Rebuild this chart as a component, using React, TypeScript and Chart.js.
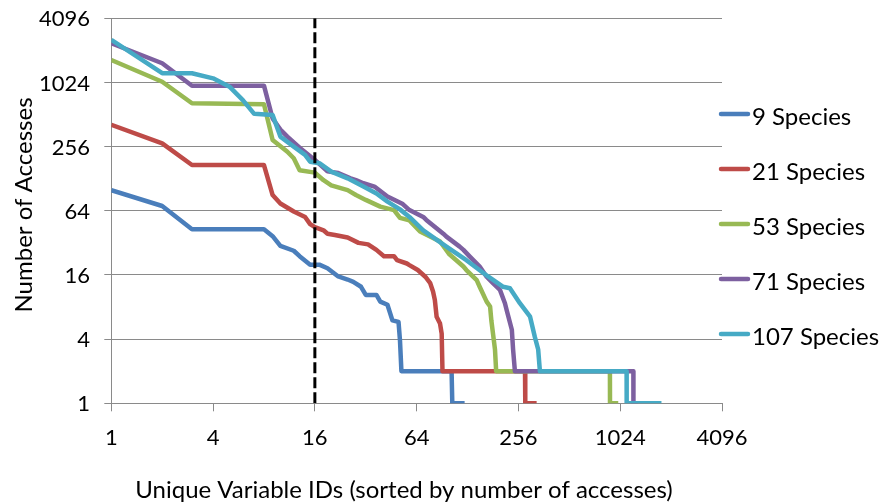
import { useEffect, useRef } from "react";
import { Chart, registerables } from "chart.js";

Chart.register(...registerables);

// Rank (x) and access count (y) for each species set
const ranks9 = [1, 2, 3, 8, 9, 10, 12, 13, 15, 17, 19, 22, 25, 27, 30, 32, 37, 39, 43, 46, 50, 51, 52, 103, 104, 123];
const counts9 = [100, 71, 43, 43, 37, 30, 27, 24, 20, 20, 18.5, 15.5, 14.5, 13.8, 12.4, 10.4, 10.4, 9, 8.4, 6, 5.8, 3.9, 2, 2, 1, 1];

const ranks21 = [1, 2, 3, 8, 9, 10, 12, 14, 15, 16, 18, 19, 21, 25, 29, 33, 37, 41, 47, 49, 56, 58, 65, 72, 77, 80, 82, 84, 88, 90, 91, 280, 281, 328];
const counts21 = [410, 275, 172, 172, 90, 75, 63, 56, 48, 45, 42, 39, 38, 36, 32, 31, 27.5, 24, 24, 22, 20.5, 19.8, 17.8, 15.4, 13.4, 11.2, 9.3, 6.5, 5.6, 4.5, 2, 2, 1, 1];

const ranks53 = [1, 2, 3, 8, 9, 11, 12, 13, 16, 18, 20, 25, 28, 32, 39, 47, 51, 58, 67, 88, 100, 121, 126, 145, 151, 166, 174, 177, 186, 189, 890, 891, 997];
const counts53 = [1664, 1040, 653, 640, 296, 229, 199, 154, 146, 124, 111, 100, 90, 81, 70, 65, 55, 52, 41, 33, 25, 19.2, 17.8, 14.3, 12.4, 9, 8.1, 6, 3.2, 2, 2, 1, 1];

const ranks71 = [1, 2, 3, 8, 9, 10, 11, 13, 16, 19, 22, 26, 28, 31, 36, 43, 53, 58, 70, 73, 92, 96, 115, 121, 132, 151, 166, 181, 199, 213, 218, 234, 238, 244, 1225, 1226, 1300];
const counts71 = [2390, 1550, 955, 955, 470, 370, 318, 250, 192, 150, 145, 129, 124, 116, 108, 87, 74, 65, 56, 52.5, 39, 36.6, 29.5, 27.5, 23.8, 19.2, 15.4, 13.4, 11.6, 8.7, 7.5, 4.9, 3.2, 2, 2, 1, 1];

const ranks107 = [1, 2, 3, 4, 5, 6, 7, 9, 10, 12, 14, 15, 17, 20, 25, 31, 37, 43, 51, 58, 70, 96, 126, 170, 208, 228, 261, 300, 320, 335, 343, 1117, 1118, 1796];
const counts107 = [2570, 1250, 1250, 1120, 935, 700, 520, 508, 318, 256, 214, 185, 179, 149, 129, 108, 93, 78, 66, 56, 42, 29.5, 22, 15.4, 12.4, 12, 8.7, 6.5, 4.2, 3.2, 2, 2, 1, 1];

const seriesLabels = ["9 Species", "21 Species", "53 Species", "71 Species", "107 Species"];
const seriesRanks = [ranks9, ranks21, ranks53, ranks71, ranks107];
const seriesCounts = [counts9, counts21, counts53, counts71, counts107];
const seriesColors = ["#4A7EBB", "#BE4B48", "#98B954", "#7D60A0", "#46AAC5"];

const axisTicks = [1, 4, 16, 64, 256, 1024, 4096];
const cutoffRank = 16;

const xTitle = "Unique Variable IDs (sorted by number of accesses)";
const yTitle = "Number of Accesses";

const FONT = "Lato, 'Open Sans', sans-serif";
const GRID = "#8a8a8a";

const titlesAndLegend = {
  id: "titlesAndLegend",
  afterDraw(chart: any) {
    const ctx = chart.ctx as CanvasRenderingContext2D;
    ctx.save();
    ctx.fillStyle = "#000";
    ctx.font = `24px ${FONT}`;
    ctx.textAlign = "center";
    ctx.textBaseline = "alphabetic";
    ctx.fillText(xTitle, 404, 498);

    ctx.save();
    ctx.translate(31.5, 205);
    ctx.rotate(-Math.PI / 2);
    ctx.fillText(yTitle, 0, 0);
    ctx.restore();

    // legend on the right
    ctx.textAlign = "left";
    seriesLabels.forEach((label, i) => {
      const y = 114 + i * 55;
      ctx.strokeStyle = seriesColors[i];
      ctx.lineWidth = 4.5;
      ctx.lineCap = "round";
      ctx.beginPath();
      ctx.moveTo(721, y);
      ctx.lineTo(748, y);
      ctx.stroke();
      ctx.fillStyle = "#000";
      ctx.fillText(label, 752, y + 11);
    });
    ctx.restore();
  },
};

export default function App() {
  const canvasRef = useRef<HTMLCanvasElement | null>(null);

  useEffect(() => {
    if (!canvasRef.current) return;

    const datasets: any[] = seriesLabels.map((label, i) => ({
      label,
      data: seriesRanks[i].map((r, j) => ({ x: r, y: seriesCounts[i][j] })),
      borderColor: seriesColors[i],
      backgroundColor: seriesColors[i],
      borderWidth: 4.5,
      borderJoinStyle: "round",
      pointRadius: 0,
      tension: 0,
      fill: false,
      order: 5 - i,
    }));

    datasets.push({
      label: "cutoff",
      data: [
        { x: cutoffRank, y: 1 },
        { x: cutoffRank, y: 4096 },
      ],
      borderColor: "#000",
      borderWidth: 3,
      borderDash: [11, 4],
      pointRadius: 0,
      fill: false,
      order: 0,
    });

    const setTicks = (scale: any) => {
      scale.ticks = axisTicks.map((v) => ({ value: v }));
    };

    const chart = new Chart(canvasRef.current, {
      type: "line",
      data: { datasets },
      options: {
        animation: false,
        responsive: false,
        layout: { padding: { left: 0, right: 165, top: 18.3, bottom: 0 } },
        plugins: {
          legend: { display: false },
          tooltip: { enabled: false },
        },
        scales: {
          x: {
            type: "logarithmic",
            min: 1,
            max: 4096,
            afterBuildTicks: setTicks,
            afterFit: (scale: any) => {
              scale.height = 99.7;
              scale.paddingLeft = 0;
              scale.paddingRight = 0;
            },
            grid: {
              drawOnChartArea: false,
              drawTicks: true,
              tickLength: 8,
              color: GRID,
              lineWidth: 1,
            },
            border: { display: true, color: GRID, width: 1 },
            ticks: {
              autoSkip: false,
              maxRotation: 0,
              padding: 13.5,
              color: "#000",
              font: { family: FONT, size: 22 },
              callback: (v: any) => String(v),
            },
          },
          y: {
            type: "logarithmic",
            min: 1,
            max: 4096,
            afterBuildTicks: setTicks,
            afterFit: (scale: any) => {
              scale.width = 111.3;
              scale.paddingTop = 0;
              scale.paddingBottom = 0;
            },
            grid: {
              drawOnChartArea: true,
              drawTicks: true,
              tickLength: 7,
              color: GRID,
              lineWidth: 1,
            },
            border: { display: true, color: GRID, width: 1 },
            ticks: {
              autoSkip: false,
              padding: 14.3,
              labelOffset: 1,
              color: "#000",
              font: { family: FONT, size: 22 },
              callback: (v: any) => String(v),
            },
          },
        },
      },
      plugins: [titlesAndLegend],
    } as any);

    return () => chart.destroy();
  }, []);

  return (
    <div style={{ position: "absolute", left: 0, top: 0, width: 887, height: 503, background: "#fff" }}>
      <canvas ref={canvasRef} width={887} height={503} />
    </div>
  );
}
